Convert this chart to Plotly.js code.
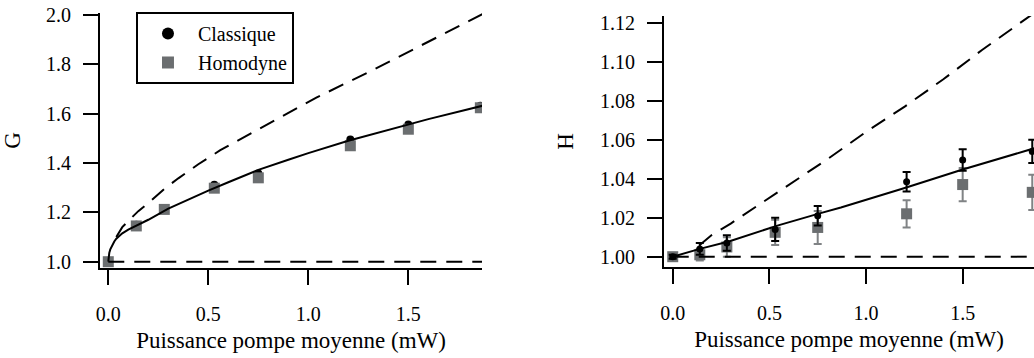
<!DOCTYPE html>
<html>
<head>
<meta charset="utf-8">
<script src="https://cdn.plot.ly/plotly-3.0.1.min.js"></script>
<style>html,body{margin:0;padding:0;background:#fff;}#chart{width:1034px;height:358px;}</style>
</head>
<body>
<div id="chart"></div>
<script>
// Mean pump power (mW) of the measured points
const power = [0, 0.14, 0.28, 0.53, 0.75, 1.21, 1.5, 1.86];

// Gain G
const gClassique = [1.0, 1.15, 1.216, 1.312, 1.358, 1.495, 1.556, 1.632];
const gHomodyne  = [1.0, 1.145, 1.212, 1.298, 1.340, 1.470, 1.537, 1.624];

// Fit of G (solid line)
const gFitP = [0, 0.002, 0.005, 0.01, 0.02, 0.03, 0.04, 0.055, 0.07, 0.1, 0.15, 0.2, 0.3, 0.4, 0.5, 0.6, 0.75, 0.9, 1.0, 1.2, 1.4, 1.6, 1.87];
const gFitV = [1.0, 1.022, 1.036, 1.05, 1.068, 1.082, 1.093, 1.105, 1.115, 1.13, 1.149, 1.17, 1.215, 1.253, 1.288, 1.322, 1.372, 1.413, 1.44, 1.49, 1.534, 1.578, 1.632];

// Theory curve of G (dashed)
const gTheoP = [0.04, 0.07, 0.1, 0.15, 0.2, 0.28, 0.35, 0.45, 0.56, 0.77, 1.04, 1.31, 1.58, 1.87];
const gTheoV = [1.10, 1.14, 1.165, 1.205, 1.237, 1.295, 1.338, 1.395, 1.452, 1.545, 1.665, 1.772, 1.882, 2.003];

// H factor with error bars
const hClassique    = [1.000, 1.004, 1.007, 1.014, 1.021, 1.0385, 1.0496, 1.054];
const hClassiqueErr = [0.001, 0.003, 0.004, 0.006, 0.005, 0.005, 0.0055, 0.006];
const hHomodyne     = [1.000, 1.001, 1.005, 1.0125, 1.015, 1.022, 1.037, 1.033];
const hHomodyneErr  = [0.001, 0.003, 0.005, 0.0065, 0.0085, 0.007, 0.0085, 0.009];

// Fit of H (solid line)
const hFitP = [0, 0.14, 0.29, 0.55, 0.76, 0.87, 1.2, 1.5, 1.87];
const hFitV = [1.0, 1.004, 1.0078, 1.0162, 1.0222, 1.0252, 1.0352, 1.0447, 1.0556];

// Theory curve of H (dashed)
const hTheoP = [0.14, 0.2, 0.3, 0.45, 0.6, 0.8, 1.0, 1.2, 1.4, 1.6, 1.87];
const hTheoV = [1.006, 1.011, 1.017, 1.027, 1.037, 1.050, 1.064, 1.077, 1.091, 1.106, 1.125];

// Reference level = 1
const refP = [0, 1.87];
const refV = [1, 1];

const black = '#000000';
const gray = '#6b6e70';
const grayErr = '#808385';
const dashStyle = '16px,10px';

const traces = [
  {x: power, y: gClassique, xaxis: 'x', yaxis: 'y', type: 'scatter', mode: 'markers', name: 'Classique',
   legendrank: 1, marker: {symbol: 'circle', size: 8, color: black}},
  {x: power, y: gHomodyne, xaxis: 'x', yaxis: 'y', type: 'scatter', mode: 'markers', name: 'Homodyne',
   legendrank: 2, marker: {symbol: 'square', size: 11, color: gray}},
  {x: refP, y: refV, xaxis: 'x', yaxis: 'y', type: 'scatter', mode: 'lines', showlegend: false,
   line: {color: black, width: 2, dash: dashStyle}},
  {x: gTheoP, y: gTheoV, xaxis: 'x', yaxis: 'y', type: 'scatter', mode: 'lines', showlegend: false,
   line: {color: black, width: 2, dash: dashStyle}},
  {x: gFitP, y: gFitV, xaxis: 'x', yaxis: 'y', type: 'scatter', mode: 'lines', showlegend: false,
   line: {color: black, width: 2}},

  {x: power, y: hHomodyne, xaxis: 'x2', yaxis: 'y2', type: 'scatter', mode: 'markers', showlegend: false,
   marker: {symbol: 'square', size: 11, color: gray},
   error_y: {type: 'data', array: hHomodyneErr, color: grayErr, thickness: 2, width: 4}},
  {x: power, y: hClassique, xaxis: 'x2', yaxis: 'y2', type: 'scatter', mode: 'markers', showlegend: false,
   marker: {symbol: 'circle', size: 7, color: black},
   error_y: {type: 'data', array: hClassiqueErr, color: black, thickness: 2, width: 4}},
  {x: refP, y: refV, xaxis: 'x2', yaxis: 'y2', type: 'scatter', mode: 'lines', showlegend: false,
   line: {color: black, width: 2, dash: dashStyle}},
  {x: hTheoP, y: hTheoV, xaxis: 'x2', yaxis: 'y2', type: 'scatter', mode: 'lines', showlegend: false,
   line: {color: black, width: 2, dash: dashStyle}},
  {x: hFitP, y: hFitV, xaxis: 'x2', yaxis: 'y2', type: 'scatter', mode: 'lines', showlegend: false,
   line: {color: black, width: 2}}
];

const fontFamily = 'Liberation Serif';
const tickFont = {family: fontFamily, size: 20, color: black};
const titleFont = {family: fontFamily, size: 23, color: black};

function xAxis(domain, range, anchor) {
  return {
    domain: domain, range: range, anchor: anchor,
    showline: true, linecolor: black, linewidth: 2, mirror: false,
    showgrid: false, zeroline: false,
    ticks: 'outside', ticklen: 15, tickwidth: 2, tickcolor: black,
    tickmode: 'linear', tick0: 0, dtick: 0.5, tickformat: '.1f',
    tickfont: tickFont, ticklabelstandoff: 12,
    title: {text: 'Puissance pompe moyenne (mW)', font: titleFont, standoff: 8}
  };
}
function yAxis(domain, range, anchor, dtick, fmt, title) {
  return {
    domain: domain, range: range, anchor: anchor,
    showline: true, linecolor: black, linewidth: 2, mirror: false,
    showgrid: false, zeroline: false,
    ticks: 'outside', ticklen: 15, tickwidth: 2, tickcolor: black,
    tickmode: 'linear', tick0: 1, dtick: dtick, tickformat: fmt,
    tickfont: tickFont, ticklabelstandoff: 8,
    title: {text: title, font: titleFont, standoff: 20}
  };
}

const layout = {
  width: 1034, height: 358,
  margin: {l: 0, r: 0, t: 0, b: 0},
  paper_bgcolor: '#ffffff', plot_bgcolor: '#ffffff',
  font: {family: fontFamily, color: black},
  xaxis: xAxis([0.0967, 0.4662], [-0.0415, 1.8685], 'y'),
  yaxis: yAxis([0.2514, 0.9637], [0.9745, 2.0081], 'x', 0.2, '.1f', 'G'),
  xaxis2: xAxis([0.6422, 1.0], [-0.045, 1.869], 'y2'),
  yaxis2: yAxis([0.2542, 0.9553], [0.99472, 1.12344], 'x2', 0.02, '.2f', 'H'),
  showlegend: true,
  legend: {
    x: 0.1315, y: 0.9665, xanchor: 'left', yanchor: 'top',
    bgcolor: '#ffffff', bordercolor: black, borderwidth: 2,
    font: {family: fontFamily, size: 20, color: black},
    itemsizing: 'constant', itemwidth: 50, tracegroupgap: 0
  }
};

Plotly.newPlot('chart', traces, layout, {displayModeBar: false, staticPlot: true});
</script>
</body>
</html>
